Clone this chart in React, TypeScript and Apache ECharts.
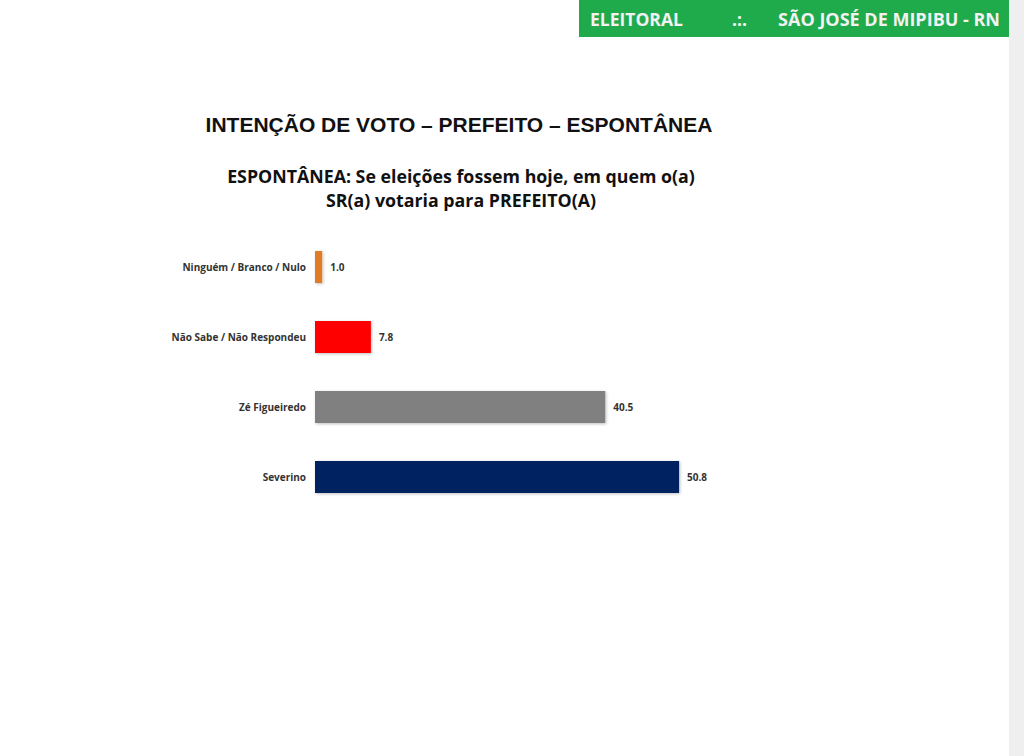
import React, { useEffect, useRef } from "react";
import * as echarts from "echarts";

const categories = ["Severino", "Zé Figueiredo", "Não Sabe / Não Respondeu", "Ninguém / Branco / Nulo"];
const values = [50.8, 40.5, 7.8, 1.0];
const barColors = ["#002060", "#808080", "#ff0000", "#e07b28"];
const title = "INTENÇÃO DE VOTO – PREFEITO – ESPONTÂNEA";
const subtitle = "ESPONTÂNEA: Se eleições fossem hoje, em quem o(a)\nSR(a) votaria para PREFEITO(A)";

export default function App() {
  const ref = useRef<HTMLDivElement>(null);
  useEffect(() => {
    if (!ref.current) return;
    const chart = echarts.init(ref.current, null, { renderer: "svg" });
    chart.setOption({
      animation: false,
      backgroundColor: "#ffffff",
      grid: { left: 315, top: 232, height: 280, width: 430 },
      xAxis: { type: "value", min: 0, max: 60, show: false },
      yAxis: {
        type: "category",
        data: categories,
        axisLine: { show: false },
        axisTick: { show: false },
        axisLabel: {
          fontFamily: "Open Sans, sans-serif",
          fontWeight: "bold",
          fontSize: 10,
          color: "#333",
          margin: 9,
        },
      },
      series: [
        {
          type: "bar",
          barWidth: 32,
          data: values.map((v, i) => ({
            value: v,
            itemStyle: {
              color: barColors[i],
              shadowColor: "rgba(0,0,0,0.25)",
              shadowBlur: 3,
              shadowOffsetX: 1,
              shadowOffsetY: 1,
            },
          })),
          label: {
            show: true,
            position: "right",
            distance: 8,
            formatter: (p: any) => p.value.toFixed(1),
            fontFamily: "Open Sans, sans-serif",
            fontWeight: "bold",
            fontSize: 10,
            color: "#333",
          },
        },
      ],
      graphic: [
        { type: "rect", shape: { x: 1009, y: 0, width: 15, height: 756 }, style: { fill: "#efefef" } },
        { type: "rect", shape: { x: 579, y: 0, width: 430, height: 37 }, style: { fill: "#1faa4c" } },
        {
          type: "text",
          x: 590,
          y: 19,
          style: { text: "ELEITORAL", fill: "#f2f2f2", font: "bold 17.5px 'Open Sans', sans-serif", textVerticalAlign: "middle" },
        },
        {
          type: "text",
          x: 732,
          y: 19,
          style: { text: ".:.", fill: "#f2f2f2", font: "bold 17.5px 'Open Sans', sans-serif", textVerticalAlign: "middle" },
        },
        {
          type: "text",
          x: 1000,
          y: 19,
          style: {
            text: "SÃO JOSÉ DE MIPIBU - RN",
            fill: "#f2f2f2",
            font: "bold 18px 'Open Sans', sans-serif",
            textAlign: "right",
            textVerticalAlign: "middle",
          },
        },
        {
          type: "text",
          x: 459,
          y: 124,
          style: {
            text: title,
            fill: "#111",
            font: "bold 21px 'Liberation Sans', Arial, sans-serif",
            textAlign: "center",
            textVerticalAlign: "middle",
          },
        },
        {
          type: "text",
          x: 461,
          y: 188,
          style: {
            text: subtitle,
            fill: "#111",
            font: "bold 17.8px 'Open Sans', sans-serif",
            lineHeight: 24,
            textAlign: "center",
            textVerticalAlign: "middle",
          },
        },
      ],
    });
    return () => chart.dispose();
  }, []);
  return <div ref={ref} style={{ position: "fixed", left: 0, top: 0, width: 1024, height: 756 }} />;
}
